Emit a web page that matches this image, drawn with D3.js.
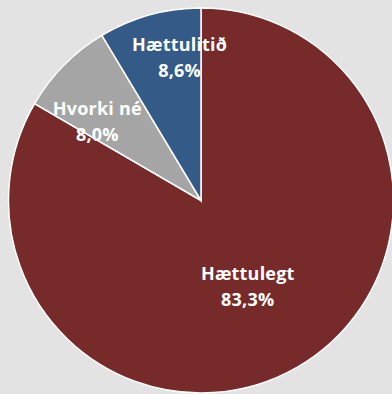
<!DOCTYPE html>
<html><head><meta charset="utf-8">
<script src="https://cdn.jsdelivr.net/npm/d3@7"></script>
<style>html,body{margin:0;padding:0;background:#e3e3e3;}svg{display:block;}</style>
</head><body>
<svg id="chart" width="392" height="394"></svg>
<script>
const categories = ["Hættulegt", "Hvorki né", "Hættulitið"];
const values = [83.3, 8.0, 8.6];
const valueLabels = ["83,3%", "8,0%", "8,6%"];
const colors = ["#772a2a", "#a5a5a5", "#345b87"];

const svg = d3.select("#chart");
const cx = 201, cy = 200.5, r = 192.5;
const g = svg.append("g").attr("transform", `translate(${cx},${cy})`);
const data = categories.map((c, i) => ({cat: c, v: values[i], lab: valueLabels[i], col: colors[i]}));
const pie = d3.pie().value(d => d.v).sort(null);
const arcs = pie(data);
const arc = d3.arc().innerRadius(0).outerRadius(r);
g.selectAll("path").data(arcs).join("path")
  .attr("d", arc).attr("fill", d => d.data.col)
  .attr("stroke", "#fff").attr("stroke-width", 1.5);

// label placement: fraction of radius and angular nudge (degrees) from the slice bisector
const labelRad = [0.507, 0.68, 0.754];
const labelNudge = [1.3, -7, 7];
arcs.forEach((a, i) => {
  const mid = (a.startAngle + a.endAngle) / 2 + labelNudge[i] * Math.PI / 180;
  const rr = r * labelRad[i];
  const x = Math.sin(mid) * rr, y = -Math.cos(mid) * rr;
  const t = g.append("text").attr("text-anchor", "middle")
    .attr("font-family", "'Open Sans', sans-serif").attr("font-weight", "bold")
    .attr("font-size", 18).attr("fill", "#fff").attr("letter-spacing", 0.2);
  t.append("tspan").attr("x", x).attr("y", y - 6).text(a.data.cat);
  t.append("tspan").attr("x", x).attr("y", y + 20).text(a.data.lab);
});
</script>
</body></html>
